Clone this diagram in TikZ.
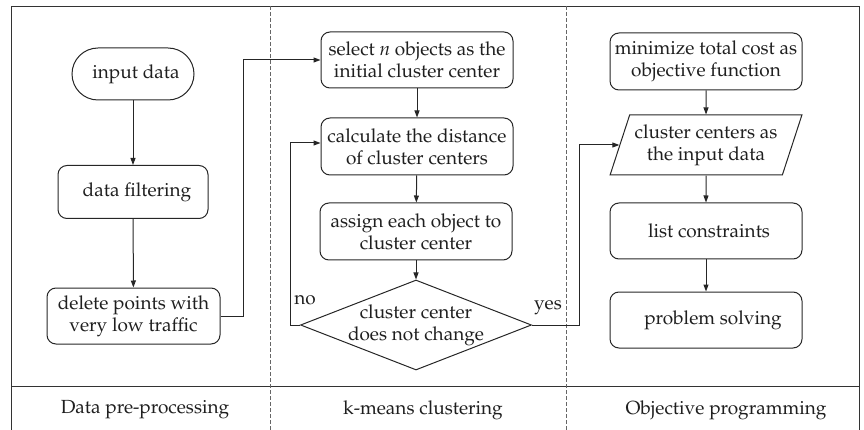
\documentclass[tikz,border=0pt]{standalone}
\usepackage[T1]{fontenc}
\usepackage{mathpazo}
\usetikzlibrary{shapes.geometric,arrows.meta}

\begin{document}
\begin{tikzpicture}[x=1pt,y=-1pt,
  txt/.style={font=\fontsize{19}{22}\selectfont, text=black!88},
  proc/.style={txt, draw=black!85, line width=1pt, rounded corners=9pt,
    align=center, inner sep=0pt, minimum width=192pt, minimum height=56pt},
  arr/.style={draw=black!85, line width=1pt, -{Triangle[length=7pt,width=5pt]}},
  frame/.style={draw=black!80, line width=0.9pt},
  lane/.style={draw=black!60, line width=0.7pt, dash pattern=on 4pt off 2pt}]

\useasboundingbox (0,0) rectangle (864,430);

% lanes and outer frame
\draw[frame] (11,430) -- (11,6) -- (859,6) -- (859,430);
\draw[frame] (11,386) -- (859,386);
\draw[lane] (270,6) -- (270,430);
\draw[lane] (566,6) -- (566,430);

% data pre-processing
\node[proc, rounded corners=26pt, minimum width=122pt, minimum height=52pt] (input) at (133,74) {\hspace*{6pt}input data};
\node[proc, minimum width=150pt, minimum height=53pt] (filter) at (133,192) {\hspace*{8pt}data filtering};
\node[proc, minimum width=173pt, minimum height=56pt] (delete) at (133.5,316) {delete points with\\very low traffic};

% k-means clustering
\node[proc] (select) at (417,60) {select \textit{n} objects as the\\initial cluster center};
\node[proc, minimum height=57pt] (dist) at (417,146.5) {calculate the distance\\of cluster centers};
\node[proc, minimum height=57pt] (assign) at (416,231.5) {assign each object to\\cluster center};
\node[txt, diamond, draw=black!85, line width=1pt, inner sep=0pt,
      minimum width=231pt, minimum height=90pt, align=center] (check) at (416,325)
  {\makebox[0pt]{cluster center}\\\makebox[0pt]{does not change}};

% objective programming
\node[proc, minimum height=57pt] (goal) at (706,61.5) {minimize total cost as\\objective function};
\node[txt, trapezium, trapezium left angle=66, trapezium right angle=114,
      trapezium stretches=true, draw=black!85, line width=1pt, inner sep=0pt,
      minimum width=192pt, minimum height=60pt, align=center] (centers) at (706,145)
  {cluster centers as\\the input data};
\node[proc] (cons) at (706,231) {\hspace*{6pt}list constraints};
\node[proc] (solve) at (706,320) {\hspace*{14pt}problem solving};

% flow
\draw[arr] (input) -- (filter);
\draw[arr] (filter) -- (delete);
\draw[arr] (delete.east) -- ++(23,0) |- (select.west);
\draw[arr] (select) -- (dist);
\draw[arr] (dist) -- (assign);
\draw[arr] (assign) -- (check);
\draw[arr] (check.west) -- ++(-10,0) |- ([yshift=3.5pt]dist.west);
\draw[arr] (check.east) -- ++(47,0) |- (centers.west);
\draw[arr] (goal) -- (centers);
\draw[arr] (centers) -- (cons);
\draw[arr] (cons) -- (solve);

\node[txt] (no) at (305,300) {no};
\node[txt] (yes) at (548,308) {yes};

% lane titles
\node[txt] (t1) at (145,410) {Data pre-processing};
\node[txt] (t2) at (423,410) {k-means clustering};
\node[txt] (t3) at (726,410) {Objective programming};
\end{tikzpicture}
\end{document}
